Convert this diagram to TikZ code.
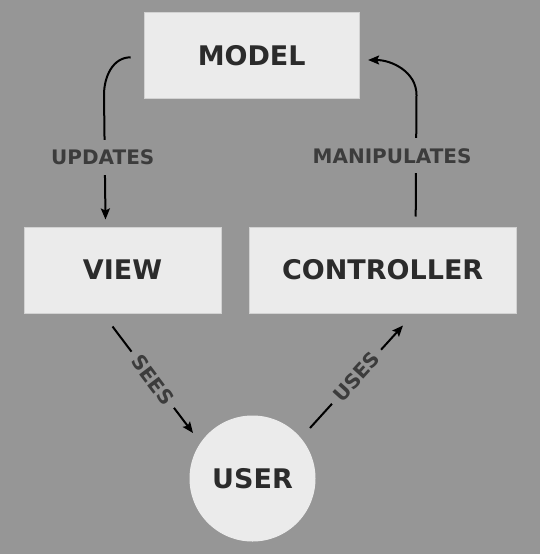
\documentclass[tikz,border=0pt]{standalone}
\usepackage{fontspec}
\setmainfont{DejaVu Sans}
\usetikzlibrary{arrows.meta}
\definecolor{bggray}{HTML}{969696}
\definecolor{boxfill}{HTML}{EBEBEB}
\definecolor{boxline}{HTML}{D2D2D2}
\definecolor{boxtext}{HTML}{2B2B2B}
\definecolor{linktext}{HTML}{3C3C3C}
\begin{document}
\begin{tikzpicture}[x=1pt, y=-1pt,
	part/.style={fill=boxfill, draw=boxline, line width=1pt, text=boxtext, font=\fontsize{27}{32}\selectfont\bfseries, minimum height=86pt},
	link/.style={line width=2pt, -{Stealth[length=11pt, width=9pt, inset=2pt]}},
	verb/.style={fill=bggray, text=linktext, font=\fontsize{20}{24}\selectfont\bfseries, inner xsep=7pt, inner ysep=10pt}]
		\fill[bggray] (0,0) rectangle (540,554);
		\useasboundingbox (0,0) rectangle (540,554);

		\node[part, minimum width=215pt] (model) at (251.7,55.3) {MODEL};
		\node[part, minimum width=197pt] (view) at (122.5,270) {VIEW};
		\node[part, minimum width=267pt] (controller) at (382.7,270) {CONTROLLER};
		\node[part, circle, draw=boxfill, minimum size=125pt] (user) at (252.5,478.5) {USER};

		\draw[link] ([shift={(-13,2)}]model.west) to[out=180, in=90] (104,95) -- node[verb, xshift=-2pt]{UPDATES} ([shift={(-17,-7)}]view.north);
		\draw[link] ([shift={(33,-10)}]controller.north) -- node[verb, xshift=-24pt]{MANIPULATES} (416.5,95) to[out=90, in=0] ([shift={(8.4,4.7)}]model.east);

		\draw[link] ([shift={(-10,13)}]view.south) -- node[verb, sloped]{SEES} ([shift={(-59.5,-45.5)}]user.center);
		\draw[link] ([shift={(57.5,-50.5)}]user.center) -- node[verb, sloped]{USES} ([shift={(20.3,12)}]controller.south);
	\end{tikzpicture}
\end{document}
